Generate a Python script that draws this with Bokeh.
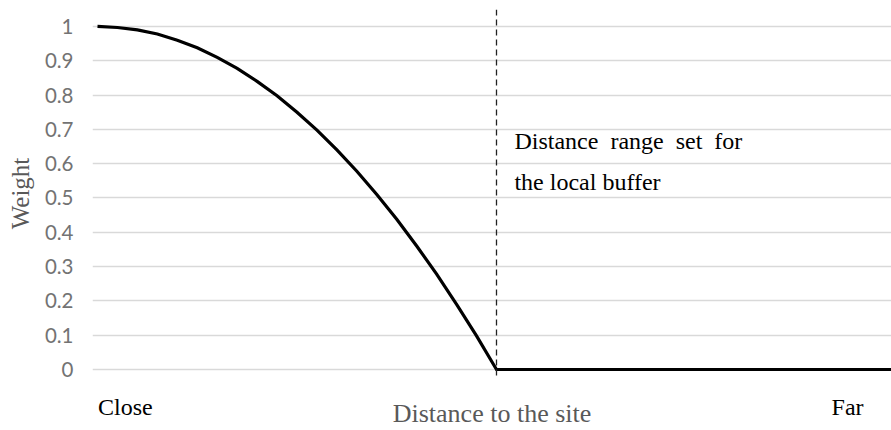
from bokeh.plotting import figure
from bokeh.models import FixedTicker, Span
from bokeh.core.properties import value
from bokeh.embed import file_html
from bokeh.resources import INLINE

# Data (distance normalised: 0 = site, 1 = buffer limit)
distance = [0.0, 0.05, 0.1, 0.15, 0.2, 0.25, 0.3, 0.35, 0.4, 0.45, 0.5,
            0.55, 0.6, 0.65, 0.7, 0.75, 0.8, 0.85, 0.9, 0.95, 1.0, 2.0]
weight = [1.000, 0.997, 0.990, 0.978, 0.960, 0.938, 0.910, 0.878, 0.840, 0.798, 0.750,
          0.698, 0.640, 0.578, 0.510, 0.438, 0.360, 0.278, 0.190, 0.098, 0.000, 0.000]
buffer_limit = 1.0

y_ticks = [0, 0.1, 0.2, 0.3, 0.4, 0.5, 0.6, 0.7, 0.8, 0.9, 1]
y_tick_labels = ["0", "0.1", "0.2", "0.3", "0.4", "0.5", "0.6", "0.7", "0.8", "0.9", "1"]
x_ticks = [0.07, 1.88]
x_tick_labels = ["Close", "Far"]

note_lines = ["Distance\u00a0 range\u00a0 set\u00a0 for", "the local buffer"]
note_x = [1.045, 1.045]
note_y = [0.666, 0.546]

SERIF = "Liberation Serif"

p = figure(width=891, height=430, output_backend="svg", toolbar_location=None,
           x_range=(-0.01253, 1.99), y_range=(-0.0233, 1.0494),
           min_border_left=92, min_border_right=0, min_border_top=9, min_border_bottom=0)
p.outline_line_color = None
p.background_fill_color = "white"
p.border_fill_color = "white"

p.xgrid.visible = False
p.ygrid.ticker = FixedTicker(ticks=y_ticks)
p.ygrid.grid_line_color = "#d9d9d9"
p.ygrid.grid_line_width = 1.5

# y axis
p.yaxis.ticker = FixedTicker(ticks=y_ticks)
p.yaxis.major_label_overrides = {t: l for t, l in zip(y_ticks, y_tick_labels)}
p.yaxis.axis_line_color = None
p.yaxis.major_tick_line_color = None
p.yaxis.minor_tick_line_color = None
p.yaxis.major_tick_out = 0
p.yaxis.major_tick_in = 0
p.yaxis.major_label_standoff = 19
p.yaxis.major_label_text_font = "Lato"
p.yaxis.major_label_text_font_size = "20.5px"
p.yaxis.major_label_text_color = "#737373"
p.yaxis.axis_label = "Weight"
p.yaxis.axis_label_text_font = SERIF
p.yaxis.axis_label_text_font_size = "25px"
p.yaxis.axis_label_text_font_style = "normal"
p.yaxis.axis_label_text_color = "#595959"
p.yaxis.axis_label_standoff = 8

# x axis
p.xaxis.ticker = FixedTicker(ticks=x_ticks)
p.xaxis.major_label_overrides = {t: l for t, l in zip(x_ticks, x_tick_labels)}
p.xaxis.axis_line_color = None
p.xaxis.major_tick_line_color = None
p.xaxis.minor_tick_line_color = None
p.xaxis.major_tick_out = 0
p.xaxis.major_tick_in = 0
p.xaxis.major_label_standoff = 16
p.xaxis.major_label_text_font = SERIF
p.xaxis.major_label_text_font_size = "24px"
p.xaxis.major_label_text_color = "black"
p.xaxis.axis_label = "Distance to the site"
p.xaxis.axis_label_text_font = SERIF
p.xaxis.axis_label_text_font_size = "26px"
p.xaxis.axis_label_text_font_style = "normal"
p.xaxis.axis_label_text_color = "#595959"
p.xaxis.axis_label_standoff = -24

p.line(distance, weight, line_color="black", line_width=3.2, line_join="miter")

p.add_layout(Span(location=buffer_limit, dimension="height", line_color="#222222",
                  line_width=1.3, line_dash="6 4"))

p.text(x=note_x, y=note_y, text=note_lines, text_font=value(SERIF),
       text_font_size="24px", text_baseline="alphabetic", text_align="left",
       text_color="black")

open("out.html", "w").write(file_html(p, INLINE))
